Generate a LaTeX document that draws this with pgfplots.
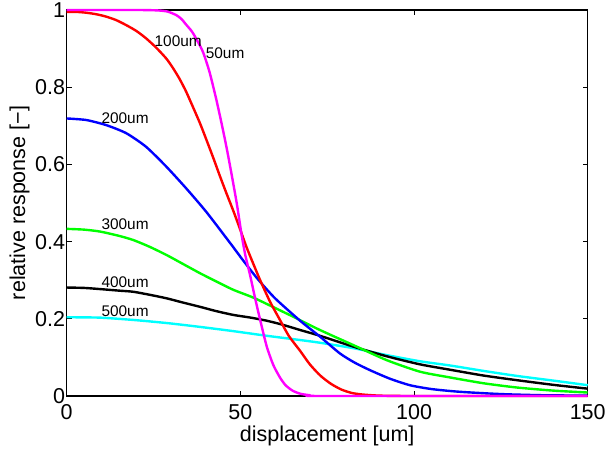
\documentclass[border=0pt]{standalone}
\usepackage{fontspec}
\setmainfont{Liberation Sans}
\usepackage{pgfplots}
\pgfplotsset{compat=1.18}

\definecolor{mmag}{rgb}{1,0,1}
\definecolor{mred}{rgb}{1,0,0}
\definecolor{mblue}{rgb}{0,0,1}
\definecolor{mgreen}{rgb}{0,1,0}
\definecolor{mcyan}{rgb}{0,1,1}

\begin{document}
\begin{tikzpicture}
\begin{axis}[
    name=ax,
    scale only axis,
    width=521bp, height=386bp,
    xmin=0, xmax=150, ymin=0, ymax=1,
    xtick={0,50,100,150},
    ytick={0,0.2,0.4,0.6,0.8,1},
    yticklabels={0,0.2,0.4,0.6,0.8,1},
    /pgf/number format/assume math mode=true,
    tick label style={font=\fontsize{21.5bp}{24bp}\selectfont, inner sep=1.5bp},
    xticklabel style={yshift=-7bp},
    major tick length=5bp,
    tick style={black, line width=0.8bp},
    axis line style={black, line width=1.3bp},
    clip=false,
    xlabel={displacement [um]},
    ylabel={relative response [−]},
    label style={font=\fontsize{21.5bp}{24bp}\selectfont},
    xlabel style={at={(axis description cs:0.5,-0.1184)}, anchor=base},
    ylabel style={at={(axis description cs:-0.08,0.5)}, anchor=base},
    every axis plot/.append style={line width=2.4bp, line join=round, smooth, tension=0.4},
  ]
  % 500um
  \addplot[mcyan] coordinates {
    (0,0.204)(9.6,0.203)(19.2,0.197)(28.8,0.189)(38.4,0.179)(48,0.168)
    (57.6,0.156)(67.2,0.145)(72.9,0.138)(82.5,0.124)(92.1,0.106)(101.7,0.090)
    (110.4,0.079)(120,0.065)(129.6,0.052)(140,0.040)(150,0.028)};
  % 400um
  \addplot[black] coordinates {
    (0,0.281)(5,0.280)(9.6,0.277)(15,0.273)(19.2,0.270)(24,0.262)(28.8,0.253)
    (33.5,0.242)(38.4,0.231)(43,0.220)(48,0.210)(53,0.203)(57.6,0.195)(62,0.185)
    (67.2,0.171)(72.9,0.156)(82.5,0.128)(92.1,0.103)(101.7,0.082)(110.4,0.068)
    (120,0.053)(129.6,0.041)(140,0.029)(150,0.019)};
  % 300um
  \addplot[mgreen] coordinates {
    (0,0.433)(5,0.431)(9.6,0.426)(15,0.415)(19.2,0.404)(24,0.386)(28.8,0.365)
    (33.5,0.342)(38.4,0.318)(43,0.297)(48,0.275)(53.7,0.255)(60,0.228)(65.3,0.205)
    (72.9,0.171)(82.5,0.132)(92.1,0.093)(101.7,0.063)(110.4,0.048)(120,0.033)
    (129.6,0.022)(140,0.014)(150,0.009)};
  % 200um
  \addplot[mblue] coordinates {
    (0,0.719)(5.6,0.715)(11.3,0.702)(17.1,0.681)(22.8,0.646)(28.6,0.595)
    (34.4,0.538)(40.1,0.478)(45.9,0.410)(48,0.385)(50.9,0.350)(55,0.303)
    (60,0.253)(67.2,0.195)(72.9,0.154)(78.7,0.110)(83,0.086)(87.3,0.067)
    (93,0.045)(98.8,0.028)(105,0.018)(113,0.011)(125,0.005)(137,0.002)(150,0.001)};
  % 100um
  \addplot[mred] coordinates {
    (0,0.995)(2.8,0.995)(5.6,0.993)(8.5,0.989)(11.3,0.983)(14.2,0.974)
    (17.1,0.961)(20,0.946)(22.8,0.927)(25.7,0.903)(28.6,0.875)(30.5,0.851)
    (32.4,0.823)(34.2,0.792)(35.8,0.760)(38.4,0.706)(40.3,0.662)(42.2,0.617)
    (44.1,0.570)(46,0.525)(48,0.479)(50,0.430)(51.8,0.385)(53.7,0.343)
    (55.7,0.300)(58.5,0.245)(61.4,0.197)(64,0.155)(67.2,0.117)(70,0.082)
    (73,0.053)(76,0.032)(79,0.017)(82,0.008)(85,0.004)(90,0.001)(100,0)(150,0)};
  % 50um
  \addplot[mmag] coordinates {
    (0,1.0)(20,1.0)(26,0.999)(29,0.996)(31.5,0.987)(33,0.977)(34.4,0.962)
    (36,0.945)(37.2,0.927)(39.2,0.892)(41.1,0.840)(43,0.771)(44.5,0.710)
    (46,0.645)(47.5,0.573)(49,0.497)(50.4,0.415)(51.5,0.362)(52.8,0.313)
    (54.2,0.255)(55.7,0.197)(57.6,0.128)(59.5,0.080)(61.4,0.048)(63,0.028)
    (65,0.014)(67.2,0.006)(70,0.002)(74,0)(150,0)};

  \begin{scope}[every node/.style={font=\fontsize{15.4bp}{18bp}\selectfont, inner sep=0pt}]
    \node at (axis cs:32.1,0.920) {100um};
    \node at (axis cs:45.6,0.889) {50um};
    \node at (axis cs:16.8,0.720) {200um};
    \node at (axis cs:16.8,0.446) {300um};
    \node at (axis cs:16.8,0.294) {400um};
    \node at (axis cs:16.8,0.220) {500um};
  \end{scope}
\end{axis}
\pgfresetboundingbox
\path ([shift={(-66.7bp,-55bp)}]ax.south west) rectangle ([shift={(18.3bp,10bp)}]ax.north east);
\end{tikzpicture}
\end{document}
